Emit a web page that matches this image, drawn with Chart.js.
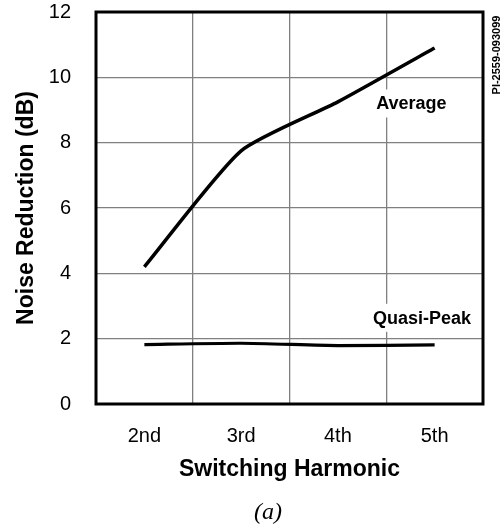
<!DOCTYPE html>
<html>
<head>
<meta charset="utf-8">
<script src="https://cdn.jsdelivr.net/npm/chart.js@4.4.1/dist/chart.umd.min.js"></script>
<style>
  html, body { margin: 0; padding: 0; background: #fff; }
  #wrap { width: 503px; height: 527px; }
</style>
</head>
<body>
<div id="wrap"><canvas id="chart" width="503" height="527"></canvas></div>
<script>
const harmonics = ['2nd', '3rd', '4th', '5th'];
const averageDb = [4.2, 7.75, 9.25, 10.9];
const quasiPeakDb = [1.82, 1.86, 1.79, 1.81];
const yTicks = [0, 2, 4, 6, 8, 10, 12];

// curve names, placed in data units (category index, dB)
const curveLabels = [
  { text: 'Average', x: 2.76, y: 9.2 },
  { text: 'Quasi-Peak', x: 2.87, y: 2.64 },
];

const FONT = '"Liberation Sans", Arial, sans-serif';

const extras = {
  id: 'extras',
  beforeDatasetsDraw(chart) {
    const { ctx, chartArea: a, scales } = chart;
    ctx.save();
    ctx.font = 'bold 18px ' + FONT;
    ctx.textAlign = 'center';
    ctx.textBaseline = 'middle';
    curveLabels.forEach((l) => {
      const x = scales.x.getPixelForValue(l.x);
      const y = scales.y.getPixelForValue(l.y);
      const w = ctx.measureText(l.text).width;
      ctx.fillStyle = '#fff';
      ctx.fillRect(x - w / 2 - 3, y - 14, w + 6, 28);
      ctx.fillStyle = '#000';
      ctx.fillText(l.text, x, y + 1);
    });
    ctx.lineWidth = 3;
    ctx.strokeStyle = '#000';
    ctx.strokeRect(a.left, a.top, a.right - a.left, a.bottom - a.top);
    ctx.restore();
  },
  afterDraw(chart) {
    const { ctx } = chart;
    ctx.save();
    ctx.fillStyle = '#000';
    ctx.textAlign = 'center';
    ctx.textBaseline = 'middle';
    ctx.font = 'italic 24px "Liberation Serif", "Times New Roman", serif';
    ctx.fillText('(a)', 268, 513);
    ctx.translate(497, 55);
    ctx.rotate(-Math.PI / 2);
    ctx.font = 'bold 11px ' + FONT;
    ctx.fillText('PI-2559-093099', 0, 0);
    ctx.restore();
  },
};

new Chart(document.getElementById('chart'), {
  type: 'line',
  data: {
    labels: harmonics,
    datasets: [
      { label: 'Average', data: averageDb, borderColor: '#000', borderWidth: 3.5, tension: 0.2, pointRadius: 0 },
      { label: 'Quasi-Peak', data: quasiPeakDb, borderColor: '#000', borderWidth: 3.2, tension: 0.2, pointRadius: 0 },
    ],
  },
  options: {
    responsive: false,
    animation: false,
    layout: { padding: { top: 12, right: 20, left: 0, bottom: 0 } },
    plugins: { legend: { display: false }, tooltip: { enabled: false } },
    scales: {
      x: {
        type: 'category',
        offset: true,
        grid: { offset: true, color: '#808080', lineWidth: 1.3, drawTicks: false },
        border: { display: false },
        ticks: { color: '#000', padding: 20, font: { family: FONT, size: 20 } },
        title: { display: true, text: 'Switching Harmonic', color: '#000', padding: { top: 0, bottom: 44 }, font: { family: FONT, size: 23, weight: 'bold' } },
        afterFit(scale) { scale.height = 123; scale.paddingLeft = 0; scale.paddingRight = 0; },
      },
      y: {
        min: 0,
        max: 12,
        afterBuildTicks(scale) { scale.ticks = yTicks.map((v) => ({ value: v })); },
        grid: { color: '#808080', lineWidth: 1.3, drawTicks: false },
        border: { display: false },
        ticks: { color: '#000', padding: 25, font: { family: FONT, size: 20 } },
        title: { display: true, text: 'Noise Reduction (dB)', color: '#000', padding: { top: 13, bottom: 0 }, font: { family: FONT, size: 23, weight: 'bold' } },
        afterFit(scale) { scale.width = 96; scale.paddingTop = 0; scale.paddingBottom = 0; },
      },
    },
  },
  plugins: [extras],
});
</script>
</body>
</html>
